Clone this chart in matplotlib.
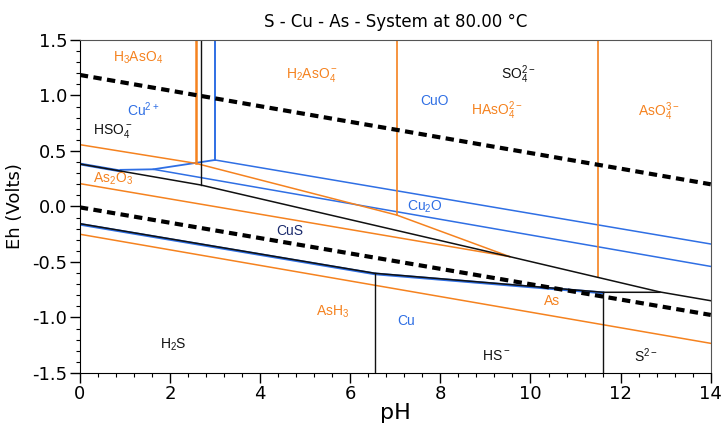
import matplotlib
matplotlib.use("Agg")
import matplotlib.pyplot as plt
from matplotlib.ticker import MultipleLocator

plt.rcParams['mathtext.default'] = 'regular'
plt.rcParams['axes.unicode_minus'] = False

ORANGE = '#f5821f'
BLUE = '#2f6fe4'
BLACK = '#111111'
NAVY = '#1a2a6c'

# ---- water stability lines (dashed) ----
water_upper_ph = [0, 14]
water_upper_eh = [1.185, 0.200]
water_lower_ph = [0, 14]
water_lower_eh = [-0.008, -0.977]

# ---- sulfur (black) boundaries ----
s_upper_ph = [0, 2.68, 9.54, 12.87, 14]
s_upper_eh = [0.383, 0.194, -0.452, -0.770, -0.849]
s_lower_ph = [0, 6.55, 11.61, 12.87]
s_lower_eh = [-0.155, -0.602, -0.773, -0.773]
s_vert_ph = [2.68, 6.55, 11.61]
s_vert_lo = [0.194, -1.5, -1.5]
s_vert_hi = [1.5, -0.602, -0.773]

# ---- copper (blue) boundaries ----
cu_a_ph = [0.9, 1.63, 3.0]
cu_a_eh = [0.330, 0.335, 0.419]
cu_oxo_ph = [3.0, 14]
cu_oxo_eh = [0.419, -0.338]
cu_low_ph = [1.63, 14]
cu_low_eh = [0.335, -0.540]
cu_vert_ph = [3.0]
cu_vert_lo = [0.419]
cu_vert_hi = [1.5]
cu_under_ph = [0, 0.9]
cu_under_eh = [0.383, 0.320]
cu_sulf_ph = [0, 6.55, 11.61]
cu_sulf_eh = [-0.160, -0.607, -0.778]

# ---- arsenic (orange) boundaries ----
as_a_ph = [0, 2.57, 7.03, 9.54]
as_a_eh = [0.557, 0.389, -0.077, -0.452]
as_b_ph = [0, 9.54]
as_b_eh = [0.206, -0.452]
as_c_ph = [0, 14]
as_c_eh = [-0.250, -1.233]
as_vert_ph = [2.57, 7.03, 11.5]
as_vert_lo = [0.389, -0.077, -0.634]
as_vert_hi = [1.5, 1.5, 1.5]

# ---- labels ----
label_text = [r'H$_3$AsO$_4$', r'H$_2$AsO$_4^-$', r'Cu$^{2+}$', r'HSO$_4^-$',
              r'As$_2$O$_3$', r'SO$_4^{2-}$', 'CuO', r'HAsO$_4^{2-}$',
              r'AsO$_4^{3-}$', r'Cu$_2$O', 'CuS', r'AsH$_3$', r'H$_2$S',
              'Cu', 'As', r'HS$^-$', r'S$^{2-}$']
label_ph = [1.29, 5.15, 1.40, 0.73, 0.73, 9.72, 7.88, 9.25, 12.85, 7.65,
            4.66, 5.60, 2.07, 7.25, 10.47, 9.23, 12.56]
label_eh = [1.34, 1.185, 0.87, 0.68, 0.25, 1.19, 0.95, 0.86, 0.85, -0.005,
            -0.22, -0.95, -1.25, -1.03, -0.85, -1.35, -1.34]
label_color = [ORANGE, ORANGE, BLUE, BLACK, ORANGE, BLACK, BLUE, ORANGE,
               ORANGE, BLUE, NAVY, ORANGE, BLACK, BLUE, ORANGE, BLACK, BLACK]

fig = plt.figure(figsize=(7.26, 4.30), dpi=100)
ax = fig.add_axes([0.110, 0.1326, 0.869, 0.7744])

# blue lines (drawn first, under black)
ax.plot(cu_under_ph, cu_under_eh, color=BLUE, lw=2.0)
ax.plot(cu_sulf_ph, cu_sulf_eh, color=BLUE, lw=2.0)
ax.plot(cu_a_ph, cu_a_eh, color=BLUE, lw=1.3)
ax.plot(cu_oxo_ph, cu_oxo_eh, color=BLUE, lw=1.1)
ax.plot(cu_low_ph, cu_low_eh, color=BLUE, lw=1.1)
for x, lo, hi in zip(cu_vert_ph, cu_vert_lo, cu_vert_hi):
    ax.plot([x, x], [lo, hi], color=BLUE, lw=1.4)

# orange lines
ax.plot(as_a_ph, as_a_eh, color=ORANGE, lw=1.1)
ax.plot(as_b_ph, as_b_eh, color=ORANGE, lw=1.1)
ax.plot(as_c_ph, as_c_eh, color=ORANGE, lw=1.1)
for i, (x, lo, hi) in enumerate(zip(as_vert_ph, as_vert_lo, as_vert_hi)):
    ax.plot([x, x], [lo, hi], color=ORANGE, lw=1.8 if i == 0 else 1.2)

# black lines
ax.plot(s_upper_ph, s_upper_eh, color=BLACK, lw=1.1)
ax.plot(s_lower_ph, s_lower_eh, color=BLACK, lw=1.1)
for x, lo, hi in zip(s_vert_ph, s_vert_lo, s_vert_hi):
    ax.plot([x, x], [lo, hi], color=BLACK, lw=1.0)

# water lines
ax.plot(water_upper_ph, water_upper_eh, color='black', lw=3.0, dashes=(2.0, 1.3))
ax.plot(water_lower_ph, water_lower_eh, color='black', lw=3.0, dashes=(2.0, 1.3))

for t, x, y, c in zip(label_text, label_ph, label_eh, label_color):
    ax.text(x, y, t, color=c, fontsize=10, ha='center', va='center',
            family='Liberation Sans')

ax.set_xlim(0, 14)
ax.set_ylim(-1.5, 1.5)
ax.xaxis.set_major_locator(MultipleLocator(2))
ax.xaxis.set_minor_locator(MultipleLocator(0.4))
ax.yaxis.set_major_locator(MultipleLocator(0.5))
ax.yaxis.set_minor_locator(MultipleLocator(0.1))
ax.tick_params(which='major', length=7, width=1.0, labelsize=13, pad=2)
ax.tick_params(which='minor', length=3, width=0.8)
for s in ax.spines.values():
    s.set_color('#555555')
ax.spines['left'].set_color('black')
ax.spines['bottom'].set_color('black')

ax.set_xlabel('pH', fontsize=16, labelpad=0)
ax.set_ylabel('Eh (Volts)', fontsize=13)
ax.yaxis.set_label_coords(-0.088, 0.5)
ax.set_title('S - Cu - As - System at 80.00 °C', fontsize=12, pad=9,
             family='DejaVu Sans')

fig.savefig('out.png', dpi=100)
